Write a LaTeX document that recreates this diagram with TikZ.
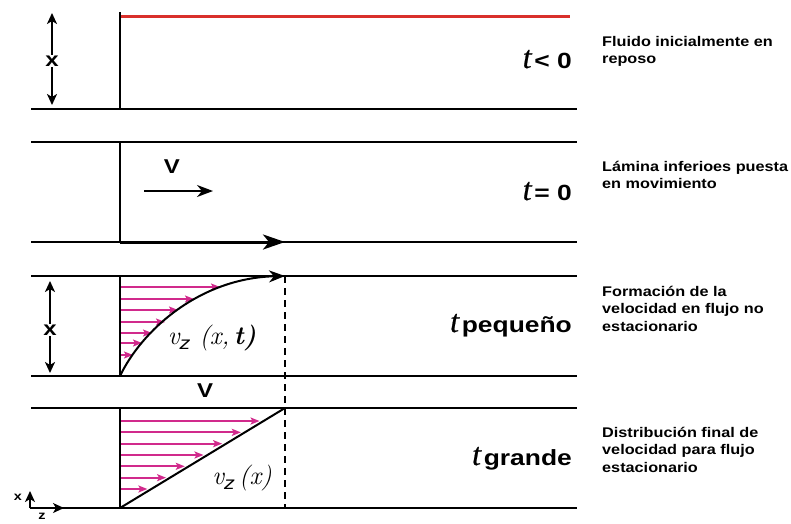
\documentclass[tikz,border=0pt]{standalone}
\usepackage{fontspec}
\usepackage{xcolor}
\newfontfamily\rotulo{Liberation Sans}[FakeStretch=1.16]
\newfontfamily\letrero{Liberation Sans}[FakeStretch=1.2]
\newfontfamily\tiempo{Liberation Serif}[FakeBold=0.6]
\usetikzlibrary{arrows.meta,calc}
\definecolor{rojo}{HTML}{D9302B}
\definecolor{fucsia}{HTML}{D12A8C}
\newcommand{\tgrande}{{\tiempo\itshape\fontsize{32}{32}\selectfont t}}
\newcommand{\etiq}[1]{{\letrero\bfseries\fontsize{22}{22}\selectfont #1}}

\begin{document}
\begin{tikzpicture}[x=1pt, y=-1pt,
  placa/.style={line width=2pt},
  flecha/.style={-{Stealth[length=16pt,width=12pt,inset=5pt]}, line width=1.6pt},
  chica/.style={-{Stealth[length=11pt,width=10pt,inset=3pt]}, line width=2pt},
  vel/.style={fucsia, line width=1.8pt, -{Stealth[length=9pt,width=7pt,inset=2pt]}},
  cota/.style={inner sep=1pt, font=\letrero\bfseries\fontsize{20}{20}\selectfont},
  tiempo/.style={anchor=base east, inner sep=0pt},
  perfil/.style={inner sep=0pt, font=\fontsize{26}{26}\selectfont},
  nota/.style={anchor=north west, align=left, inner sep=0pt,
    font=\rotulo\bfseries\fontsize{14}{17.5}\selectfont}]
  \useasboundingbox (0,0) rectangle (791,523);

  % t < 0
  \draw[rojo, line width=3pt] (121,16) -- (570,16);
  \draw[placa] (120,12) -- (120,109);
  \draw[placa] (31,109) -- (577,109);
  \node[cota] (x1) at (52,61) {x};
  \coordinate (x1a) at (52,13);
  \coordinate (x1b) at (52,105);
  \draw[chica] (x1) -- (x1a);
  \draw[chica] (x1) -- (x1b);
  \node[tiempo] (t1) at (572,68) {\tgrande\;\etiq{< 0}};
  \node[nota] (n1) at (602,36) {Fluido inicialmente en\\reposo};

  % t = 0
  \draw[placa] (31,142) -- (577,142);
  \draw[placa] (120,142) -- (120,242);
  \draw[placa] (31,242) -- (577,242);
  \coordinate (o2) at (120,242);
  \coordinate (v2) at (285,242);
  \draw[-{Stealth[length=22pt,width=15pt,inset=6pt]}, line width=3pt] (o2) -- (v2);
  \node[cota] (V2) at (172,167) {V};
  \coordinate (a2) at (144,191);
  \coordinate (b2) at (213,191);
  \draw[flecha] (a2) -- (b2);
  \node[tiempo] (t2) at (572,200) {\tgrande\;\etiq{= 0}};
  \node[nota] (n2) at (602,161) {L\'amina inferioes puesta\\en movimiento};

  % t pequeno
  \draw[placa] (31,276) -- (577,276);
  \draw[placa] (120,276) -- (120,376);
  \draw[placa] (31,376) -- (577,376);
  \foreach \y/\xe in {287/220,299/194,310/178,322/165,333/152,343/142,355/133}
    \draw[vel] (121,\y) -- (\xe,\y);
  \coordinate (c0) at (120,376);
  \coordinate (c1) at (285,276);
  \draw[flecha, line width=2pt] (c0) .. controls (142,330) and (200,278) .. (c1);
  \coordinate (d0) at (285,276);
  \coordinate (d1) at (285,508);
  \draw[dash pattern=on 7pt off 5pt, line width=2pt] (d0) -- (d1);
  \node[cota] (x3) at (50,330) {x};
  \coordinate (x3a) at (50,281);
  \coordinate (x3b) at (50,373);
  \draw[chica] (x3) -- (x3a);
  \draw[chica] (x3) -- (x3b);
  \node[perfil] (p3) at (212,338)
    {\itshape v\raisebox{-5pt}{\letrero\fontsize{18}{18}\selectfont z}\ (x,\,\bfseries t)};
  \node[cota] (V3) at (205,391) {V};
  \node[tiempo] (t3) at (572,332) {\tgrande\;\etiq{peque\~no}};
  \node[nota] (n3) at (602,286) {Formaci\'on de la\\velocidad en flujo no\\estacionario};

  % t grande
  \draw[placa] (31,408) -- (577,408);
  \draw[placa] (120,408) -- (120,508);
  \draw[placa] (31,508) -- (577,508);
  \foreach \k in {0,...,6}
    \draw[vel] (121,{421+\k*11.33}) -- ({116+1.65*(87-\k*11.33)},{421+\k*11.33});
  \coordinate (e0) at (120,508);
  \coordinate (e1) at (285,408);
  \draw[placa] (e0) -- (e1);
  \node[perfil] (p4) at (242,478)
    {\itshape v\raisebox{-5pt}{\letrero\fontsize{18}{18}\selectfont z}\,(x)};
  \node[tiempo] (t4) at (572,465) {\tgrande\;\etiq{grande}};
  \node[nota] (n4) at (602,427) {Distribuci\'on final de\\velocidad para flujo\\estacionario};

  % ejes
  \coordinate (ej) at (30,508);
  \coordinate (ejx) at (30,491);
  \coordinate (ejz) at (64,508);
  \draw[chica, line width=1.4pt] (ej) -- (ejx);
  \draw[chica, line width=1.4pt] (ej) -- (ejz);
  \node[cota, font=\letrero\bfseries\fontsize{12}{12}\selectfont] (lx) at (18,497) {x};
  \node[cota, font=\letrero\bfseries\fontsize{12}{12}\selectfont] (lz) at (42,516) {z};
\end{tikzpicture}
\end{document}
